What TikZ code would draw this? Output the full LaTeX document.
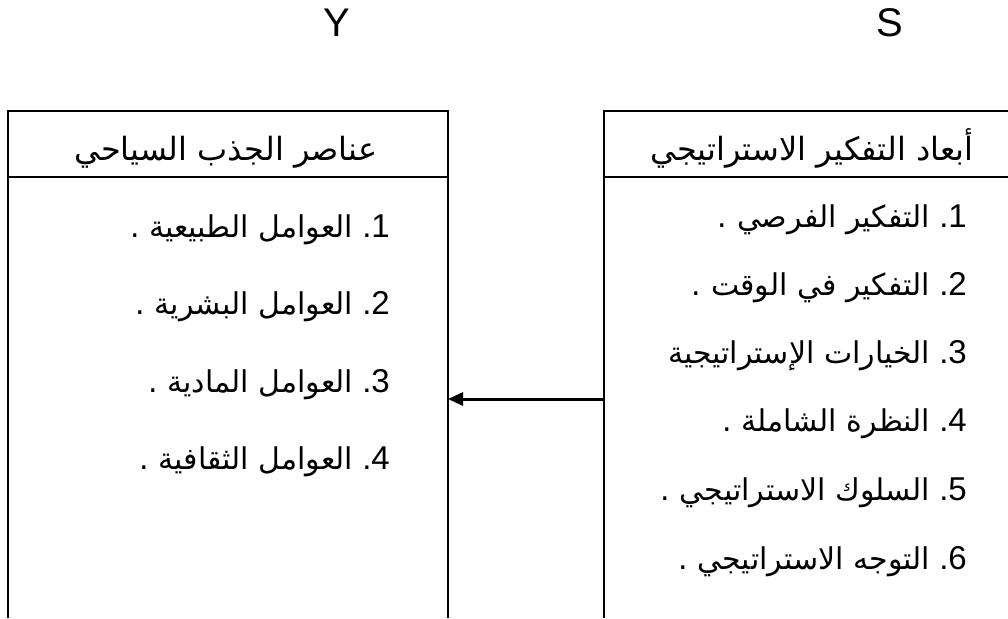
\documentclass[tikz,border=0pt]{standalone}
\usepackage{fontspec}
\setmainfont{Liberation Sans}
\newfontfamily\arabicfont[Script=Arabic]{DejaVu Sans}
\TeXXeTstate=1
\usetikzlibrary{arrows.meta}
\newcommand{\artxt}[1]{{\arabicfont\fontsize{30}{36}\selectfont\beginR #1\endR}}
\newcommand{\numtxt}[1]{{\fontsize{33}{38}\selectfont\ .#1}}
\begin{document}
\begin{tikzpicture}[x=1pt,y=-1pt,
  frame/.style={line width=2pt,black},
  letter/.style={font=\fontsize{40}{48}\selectfont,inner sep=0pt},
  headtxt/.style={anchor=base,font=\arabicfont\fontsize{32}{38}\selectfont,inner sep=0pt},
  itemL/.style={anchor=base east,inner sep=0pt},
  itemR/.style={anchor=base east,inner sep=0pt},
  arr/.style={line width=3pt,-{Triangle[length=15pt,width=13pt]}}]
\useasboundingbox (0,0) rectangle (1008,618);
% letters
\node[letter] (Y) at (337,23) {Y};
\node[letter] (S) at (890,23) {S};
% left frame
\draw[frame] (8,618) -- (8,111) -- (448,111) -- (448,618);
\draw[frame] (8,177) -- (448,177);
% right frame
\draw[frame] (604,618) -- (604,111) -- (1012,111);
\draw[frame] (604,177) -- (1012,177);
% headers
\node[headtxt] (lh) at (226,160) {\beginR عناصر الجذب السياحي\endR};
\node[headtxt] (rh) at (812,160) {\beginR أبعاد التفكير الاستراتيجي\endR};
% left items
\node[itemL] (l1) at (390,237) {\artxt{العوامل الطبيعية .}\numtxt{1}};
\node[itemL] (l2) at (390,314.5) {\artxt{العوامل البشرية .}\numtxt{2}};
\node[itemL] (l3) at (390,392) {\artxt{العوامل المادية .}\numtxt{3}};
\node[itemL] (l4) at (390,469.5) {\artxt{العوامل الثقافية .}\numtxt{4}};
% right items
\node[itemR] (r1) at (967,227) {\artxt{التفكير الفرصي .}\numtxt{1}};
\node[itemR] (r2) at (967,295) {\artxt{التفكير في الوقت .}\numtxt{2}};
\node[itemR] (r3) at (967,363) {\artxt{الخيارات الإستراتيجية}\numtxt{3}};
\node[itemR] (r4) at (967,431) {\artxt{النظرة الشاملة .}\numtxt{4}};
\node[itemR] (r5) at (967,500) {\artxt{السلوك الاستراتيجي .}\numtxt{5}};
\node[itemR] (r6) at (967,569) {\artxt{التوجه الاستراتيجي .}\numtxt{6}};
% connector
\coordinate (rside) at (604,399);
\coordinate (lside) at (448,399);
\draw[arr] (rside) -- (lside);
\end{tikzpicture}
\end{document}
